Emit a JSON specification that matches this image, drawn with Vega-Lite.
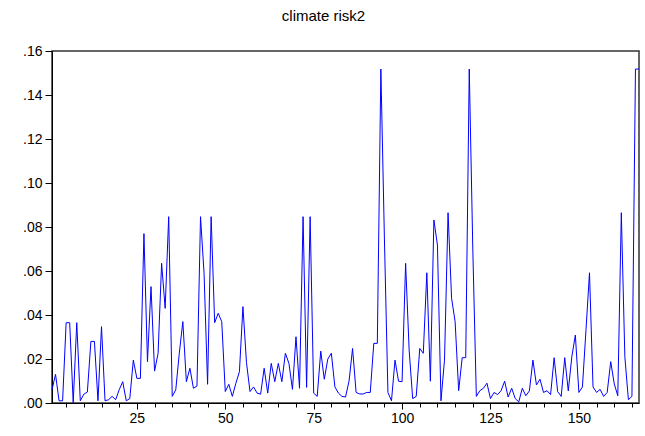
{
  "$schema": "https://vega.github.io/schema/vega-lite/v6.json",
  "width": 587,
  "height": 352,
  "autosize": {"type": "none"},
  "padding": {"left": 52, "top": 51, "right": 6, "bottom": 33},
  "background": "white",
  "title": {
    "text": "climate risk2",
    "font": "Liberation Sans",
    "fontSize": 15,
    "fontWeight": "normal",
    "color": "#000000",
    "anchor": "middle",
    "frame": "group",
    "dx": -22,
    "offset": 20
  },
  "data": {
    "values": [
      {"t":1,"v":0.006},{"t":2,"v":0.013},{"t":3,"v":0.001},{"t":4,"v":0.001},{"t":5,"v":0.0365},
      {"t":6,"v":0.0365},{"t":7,"v":0.0002},{"t":8,"v":0.0365},{"t":9,"v":0.001},{"t":10,"v":0.004},
      {"t":11,"v":0.005},{"t":12,"v":0.028},{"t":13,"v":0.028},{"t":14,"v":0.001},{"t":15,"v":0.0347},
      {"t":16,"v":0.001},{"t":17,"v":0.0015},{"t":18,"v":0.003},{"t":19,"v":0.0015},{"t":20,"v":0.006},
      {"t":21,"v":0.0097},{"t":22,"v":0.001},{"t":23,"v":0.002},{"t":24,"v":0.0195},{"t":25,"v":0.0112},
      {"t":26,"v":0.0112},{"t":27,"v":0.077},{"t":28,"v":0.0188},{"t":29,"v":0.0529},{"t":30,"v":0.0145},
      {"t":31,"v":0.0226},{"t":32,"v":0.0635},{"t":33,"v":0.043},{"t":34,"v":0.0847},{"t":35,"v":0.003},
      {"t":36,"v":0.006},{"t":37,"v":0.0226},{"t":38,"v":0.037},{"t":39,"v":0.0097},{"t":40,"v":0.0158},
      {"t":41,"v":0.0067},{"t":42,"v":0.0077},{"t":43,"v":0.0847},{"t":44,"v":0.059},{"t":45,"v":0.0085},
      {"t":46,"v":0.0847},{"t":47,"v":0.0365},{"t":48,"v":0.0408},{"t":49,"v":0.037},{"t":50,"v":0.0052},
      {"t":51,"v":0.0085},{"t":52,"v":0.003},{"t":53,"v":0.009},{"t":54,"v":0.0142},{"t":55,"v":0.0438},
      {"t":56,"v":0.0183},{"t":57,"v":0.0052},{"t":58,"v":0.0073},{"t":59,"v":0.0045},{"t":60,"v":0.004},
      {"t":61,"v":0.0158},{"t":62,"v":0.0045},{"t":63,"v":0.018},{"t":64,"v":0.0097},{"t":65,"v":0.018},
      {"t":66,"v":0.0097},{"t":67,"v":0.0226},{"t":68,"v":0.018},{"t":69,"v":0.0062},{"t":70,"v":0.0301},
      {"t":71,"v":0.0067},{"t":72,"v":0.0847},{"t":73,"v":0.0071},{"t":74,"v":0.0847},{"t":75,"v":0.0045},
      {"t":76,"v":0.003},{"t":77,"v":0.0236},{"t":78,"v":0.0108},{"t":79,"v":0.02},{"t":80,"v":0.0226},
      {"t":81,"v":0.0073},{"t":82,"v":0.0045},{"t":83,"v":0.003},{"t":84,"v":0.0027},{"t":85,"v":0.0099},
      {"t":86,"v":0.0248},{"t":87,"v":0.0048},{"t":88,"v":0.0041},{"t":89,"v":0.0041},{"t":90,"v":0.0048},
      {"t":91,"v":0.0048},{"t":92,"v":0.0271},{"t":93,"v":0.0271},{"t":94,"v":0.1518},{"t":95,"v":0.075},
      {"t":96,"v":0.0048},{"t":97,"v":0.001},{"t":98,"v":0.0195},{"t":99,"v":0.0099},{"t":100,"v":0.0097},
      {"t":101,"v":0.0635},{"t":102,"v":0.024},{"t":103,"v":0.002},{"t":104,"v":0.003},{"t":105,"v":0.0248},
      {"t":106,"v":0.0226},{"t":107,"v":0.0592},{"t":108,"v":0.0099},{"t":109,"v":0.0832},{"t":110,"v":0.0718},
      {"t":111,"v":0.001},{"t":112,"v":0.0195},{"t":113,"v":0.0865},{"t":114,"v":0.0476},{"t":115,"v":0.037},
      {"t":116,"v":0.0056},{"t":117,"v":0.0206},{"t":118,"v":0.0206},{"t":119,"v":0.1518},{"t":120,"v":0.07},
      {"t":121,"v":0.003},{"t":122,"v":0.0056},{"t":123,"v":0.0067},{"t":124,"v":0.009},{"t":125,"v":0.002},
      {"t":126,"v":0.0048},{"t":127,"v":0.0038},{"t":128,"v":0.0056},{"t":129,"v":0.0099},{"t":130,"v":0.0027},
      {"t":131,"v":0.0067},{"t":132,"v":0.002},{"t":133,"v":0.0005},{"t":134,"v":0.0067},{"t":135,"v":0.0033},
      {"t":136,"v":0.0055},{"t":137,"v":0.0195},{"t":138,"v":0.0082},{"t":139,"v":0.0108},{"t":140,"v":0.0048},
      {"t":141,"v":0.0056},{"t":142,"v":0.0038},{"t":143,"v":0.0206},{"t":144,"v":0.0052},{"t":145,"v":0.003},
      {"t":146,"v":0.0206},{"t":147,"v":0.0055},{"t":148,"v":0.021},{"t":149,"v":0.0309},{"t":150,"v":0.0048},
      {"t":151,"v":0.0073},{"t":152,"v":0.033},{"t":153,"v":0.0592},{"t":154,"v":0.0073},{"t":155,"v":0.0048},
      {"t":156,"v":0.0062},{"t":157,"v":0.003},{"t":158,"v":0.0048},{"t":159,"v":0.0188},{"t":160,"v":0.0087},
      {"t":161,"v":0.0033},{"t":162,"v":0.0865},{"t":163,"v":0.021},{"t":164,"v":0.0015},{"t":165,"v":0.003},
      {"t":166,"v":0.1518},{"t":167,"v":0.1518}
    ]
  },
  "layer": [
    {
      "mark": {"type": "line", "color": "#0000FF", "strokeWidth": 1, "opacity": 0},
      "encoding": {
        "x": {
          "field": "t", "type": "quantitative",
          "scale": {"domain": [1, 167], "nice": false, "zero": false},
          "axis": {
            "orient": "bottom", "title": null, "values": [25, 50, 75, 100, 125, 150],
            "tickSize": 6, "domain": false, "grid": false, "labelPadding": 2
          }
        },
        "y": {
          "field": "v", "type": "quantitative",
          "scale": {"domain": [0, 0.16], "nice": false, "zero": true},
          "axis": null
        }
      }
    },
    {
      "mark": {"type": "line", "color": "#0000FF", "strokeWidth": 1},
      "encoding": {
        "x": {
          "field": "t", "type": "quantitative",
          "axis": {
            "orient": "bottom", "title": null,
            "values": [5,10,15,20,25,30,35,40,45,50,55,60,65,70,75,80,85,90,95,100,105,110,115,120,125,130,135,140,145,150,155,160,165],
            "tickSize": 4, "labels": false, "domain": true, "grid": false
          }
        },
        "y": {
          "field": "v", "type": "quantitative",
          "axis": {
            "title": null, "values": [0, 0.02, 0.04, 0.06, 0.08, 0.1, 0.12, 0.14, 0.16],
            "labelExpr": "substring(format(datum.value, '.2f'), 1)",
            "tickSize": 7, "labelPadding": 3, "grid": false, "domain": true
          }
        }
      }
    }
  ],
  "resolve": {"axis": {"x": "independent", "y": "independent"}},
  "config": {
    "view": {"stroke": "#333333", "strokeWidth": 1.5},
    "axis": {
      "labelFont": "Liberation Sans", "labelFontSize": 14, "labelColor": "#000000",
      "domainColor": "#000000", "tickColor": "#000000", "domainWidth": 1, "tickWidth": 1
    }
  }
}
